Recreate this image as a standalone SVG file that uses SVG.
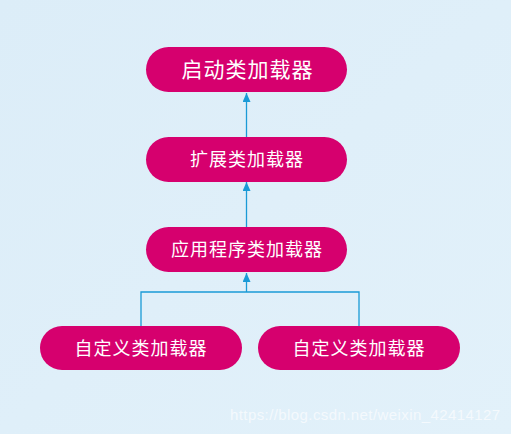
<svg xmlns="http://www.w3.org/2000/svg" width="511" height="434" viewBox="0 0 511 434">
<defs>
<linearGradient id="bg" x1="0" y1="0" x2="1" y2="1">
<stop offset="0" stop-color="#dcedf8"/>
<stop offset="1" stop-color="#e2f1fa"/>
</linearGradient>
<marker id="arr" markerWidth="10" markerHeight="10" refX="9" refY="4" orient="auto" markerUnits="userSpaceOnUse">
<path d="M0,0 L9,4 L0,8 Z" fill="#1a9ad6"/>
</marker>
</defs>
<style>
.node rect{fill:#d6006e;}
.node text{fill:#ffffff;font-family:"Noto Sans CJK SC","Noto Sans",sans-serif;font-size:18px;text-anchor:middle;letter-spacing:1px;}
.conn path{fill:none;stroke:#1a9ad6;stroke-width:1.3;}
.wm{font-family:"Liberation Sans",Arial,sans-serif;font-size:15px;fill:#f4f9fd;}
</style>
<rect width="511" height="434" fill="url(#bg)"/>
<g class="conn">
<path d="M246.5,137 L246.5,93" marker-end="url(#arr)"/>
<path d="M246.5,227 L246.5,182" marker-end="url(#arr)"/>
<path d="M141,326 L141,292 L359,292 L359,326"/>
<path d="M246.5,292 L246.5,273" marker-end="url(#arr)"/>
</g>
<g id="bootstrap" class="node">
<rect x="146" y="47" width="201" height="45" rx="22.5"/>
<text x="247.5" y="77" style="font-size:21px">启动类加载器</text>
</g>
<g id="extension" class="node">
<rect x="146" y="137" width="201" height="45" rx="22.5"/>
<text x="247" y="166">扩展类加载器</text>
</g>
<g id="application" class="node">
<rect x="146" y="227" width="201" height="45" rx="22.5"/>
<text x="247" y="256">应用程序类加载器</text>
</g>
<g id="custom1" class="node">
<rect x="40" y="326" width="202" height="44" rx="22"/>
<text x="141" y="355">自定义类加载器</text>
</g>
<g id="custom2" class="node">
<rect x="258" y="326" width="202" height="44" rx="22"/>
<text x="359" y="355">自定义类加载器</text>
</g>
<text class="wm" x="230" y="420" textLength="270">https://blog.csdn.net/weixin_42414127</text>
</svg>
